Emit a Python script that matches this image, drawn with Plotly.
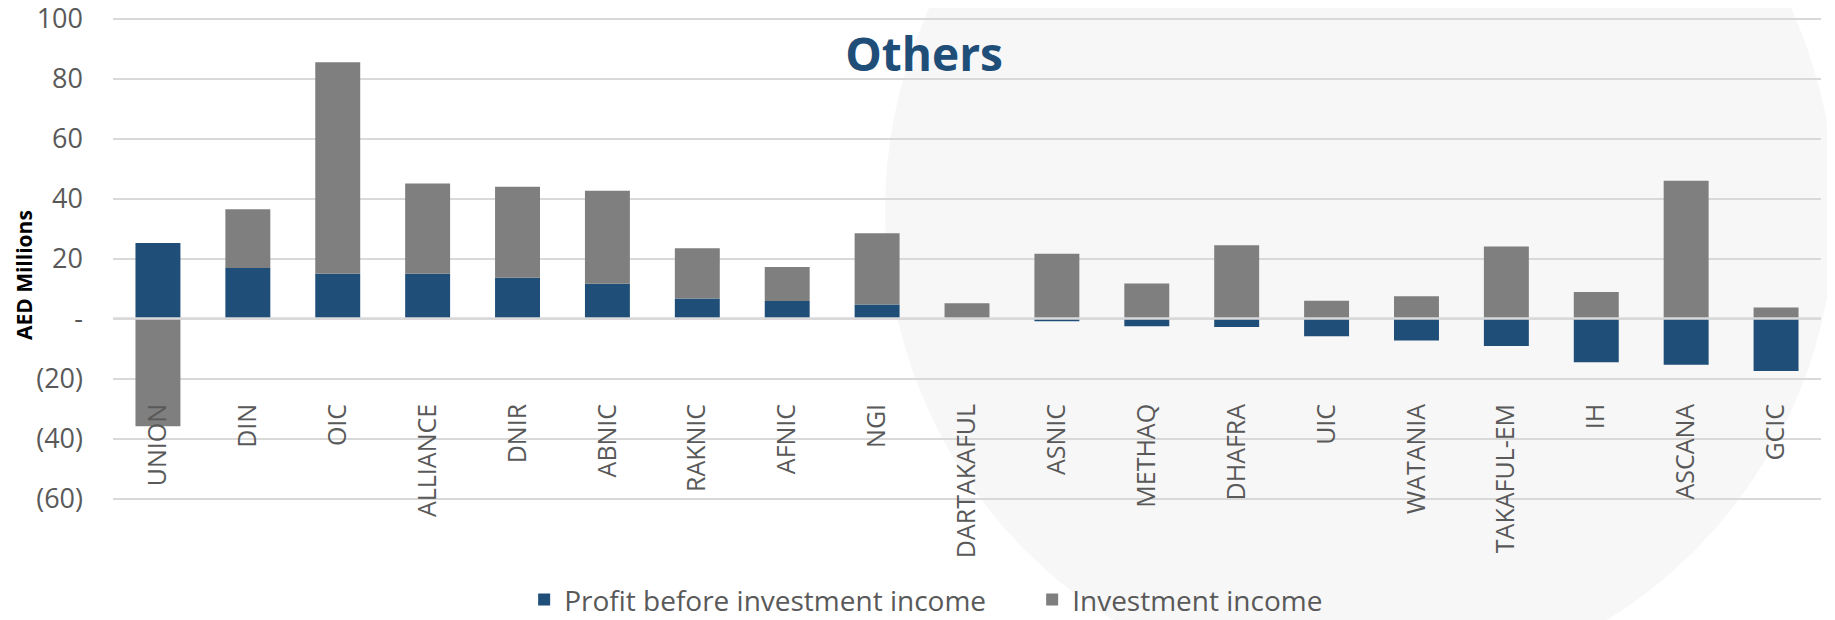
import plotly.graph_objects as go

companies = ["UNION", "DIN", "OIC", "ALLIANCE", "DNIR", "ABNIC", "RAKNIC", "AFNIC", "NGI",
             "DARTAKAFUL", "ASNIC", "METHAQ", "DHAFRA", "UIC", "WATANIA", "TAKAFUL-EM",
             "IH", "ASCANA", "GCIC"]
profit_before_inv = [25.2, 16.8, 14.9, 14.9, 13.6, 11.6, 6.7, 5.8, 4.7,
                     0.0, -0.9, -2.6, -2.8, -5.9, -7.3, -9.2, -14.6, -15.4, -17.5]
investment_income = [-35.9, 19.6, 70.5, 30.1, 30.3, 31.0, 16.7, 11.4, 23.7,
                     5.1, 21.6, 11.7, 24.4, 5.9, 7.4, 24.0, 8.8, 45.9, 3.7]
y_tickvals = [-60, -40, -20, 0, 20, 40, 60, 80, 100]
y_ticktext = ["(60)", "(40)", "(20)", "-", "20", "40", "60", "80", "100"]

FONT = "Open Sans"
BLUE = "#1F4E79"
GRAY = "#7F7F7F"
TXT = "#595959"

fig = go.Figure()
fig.add_trace(go.Bar(name="Profit before investment income", x=companies, y=profit_before_inv,
                     marker=dict(color=BLUE, line=dict(width=0)), width=0.5))
fig.add_trace(go.Bar(name="Investment income", x=companies, y=investment_income,
                     marker=dict(color=GRAY, line=dict(width=0)), width=0.5))

W, H = 1835, 620
OFF = 8  # page body margin
# plot area in page pixels (from reference)
left_pg, right_pg, top_pg, bot_pg = 112.8, 1821.0, 17.1, 500.1
ml = left_pg - OFF
mr = W - (right_pg - OFF)
mt = top_pg - OFF
mb = H - (bot_pg - OFF)
PW, PH = W - ml - mr, H - mt - mb

def px_x(page_px):
    return (page_px - OFF - ml) / PW

def px_y(page_px):
    return (H - mb - (page_px - OFF)) / PH

# faint watermark disc
fig.add_shape(type="circle", xref="paper", yref="paper", layer="below",
              x0=px_x(885), x1=px_x(1835), y0=px_y(690), y1=px_y(-270),
              fillcolor="#F7F7F7", line=dict(width=0))
# zero line over bars
fig.add_shape(type="line", xref="paper", yref="y", x0=0, x1=1, y0=0, y1=0,
              layer="above", line=dict(color="#D9D9D9", width=2.5))

fig.update_layout(
    width=W, height=H,
    barmode="relative",
    bargap=0.5,
    paper_bgcolor="white",
    plot_bgcolor="rgba(0,0,0,0)",
    margin=dict(l=ml, r=mr, t=mt, b=mb, autoexpand=False),
    font=dict(family=FONT, color=TXT),
    title=dict(text="<b>Others</b>", x=px_x(924), xref="paper", xanchor="center",
               y=px_y(55), yref="paper", yanchor="middle",
               font=dict(family=FONT, size=46, color=BLUE)),
    xaxis=dict(anchor="free", position=px_y(398), showline=False, showgrid=False,
               zeroline=False, ticks="", tickangle=-90,
               tickfont=dict(family=FONT, size=25, color=TXT)),
    yaxis=dict(range=[-60.5, 100.5], tickvals=y_tickvals, ticktext=y_ticktext,
               showgrid=True, gridcolor="#D9D9D9", gridwidth=1.5,
               zeroline=False, showline=False, ticks="",
               ticklabelstandoff=29, ticklabeloverflow="allow",
               tickfont=dict(family=FONT, size=27, color=TXT)),
    legend=dict(orientation="h", x=px_x(524), xanchor="left", y=px_y(600), yanchor="middle",
                font=dict(family=FONT, size=28, color=TXT), traceorder="normal",
                entrywidth=463, entrywidthmode="pixels",
                itemwidth=30, bgcolor="rgba(0,0,0,0)"),
    showlegend=True,
)
fig.add_annotation(text="<b>AED Millions</b>", textangle=-90, xref="paper", yref="paper",
                   x=px_x(OFF), y=px_y(275),
                   xanchor="left", yanchor="middle", showarrow=False,
                   font=dict(family=FONT, size=21, color="black"))

fig.write_html("out.html")
